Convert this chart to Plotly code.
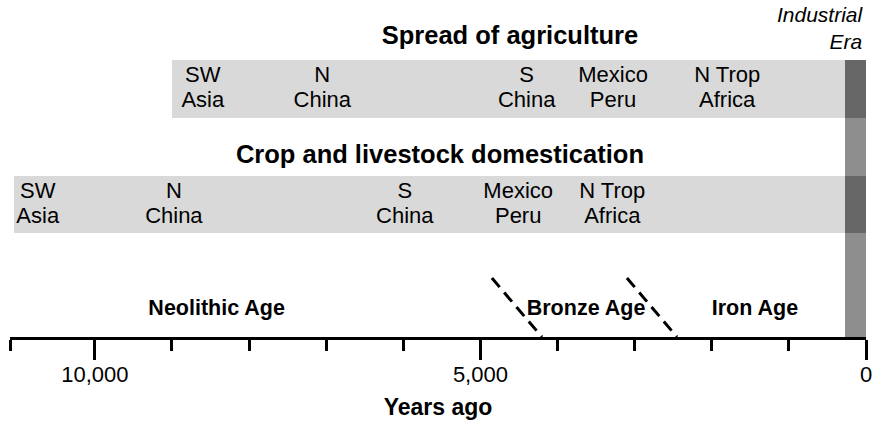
import plotly.graph_objects as go

FONT = "Liberation Sans, Arial, sans-serif"

# ---- data (years ago) ----
axis_start = 11100
industrial_start = 270

bar_names = ["Spread of agriculture", "Crop and livestock domestication"]
bar_starts = [9000, 11050]
bar_centers = [248.5, 132.5]
bar_heights = [58, 57]
title_x = [4617, 5525]
title_y = [299, 180]

spread_top = ["SW", "N", "S", "Mexico", "N Trop"]
spread_bottom = ["Asia", "China", "China", "Peru", "Africa"]
spread_x = [8600, 7050, 4400, 3280, 1800]

crop_top = ["SW", "N", "S", "Mexico", "N Trop"]
crop_bottom = ["Asia", "China", "China", "Peru", "Africa"]
crop_x = [10740, 8975, 5980, 4510, 3290]

era_names = ["Neolithic Age", "Bronze Age", "Iron Age"]
era_x = [8420, 3630, 1440]
era_y = 27

boundary1_x = [4851, 4202]
boundary2_x = [3100, 2451]
boundary_y = [59, 0]

major_ticks = [10000, 5000, 0]
major_labels = ["10,000", "5,000", "0"]
minor_ticks = [11100, 9000, 8000, 7000, 6000, 4000, 3000, 2000, 1000]

LIGHT = "#d9d9d9"
MID = "#8e8e8e"
DARK = "#676767"

fig = go.Figure()

# light bars
fig.add_trace(go.Bar(orientation="h", y=bar_centers, x=bar_starts, base=[0, 0],
                     width=bar_heights, marker=dict(color=LIGHT, line=dict(width=0)),
                     hoverinfo="skip", showlegend=False))
# industrial column
col_top = bar_centers[0] + bar_heights[0] / 2
fig.add_trace(go.Bar(orientation="h", y=[col_top / 2], x=[industrial_start], base=[0],
                     width=[col_top], marker=dict(color=MID, line=dict(width=0)),
                     hoverinfo="skip", showlegend=False))
# overlaps
fig.add_trace(go.Bar(orientation="h", y=bar_centers, x=[industrial_start] * 2, base=[0, 0],
                     width=bar_heights, marker=dict(color=DARK, line=dict(width=0)),
                     hoverinfo="skip", showlegend=False))

label_font = dict(family=FONT, size=22, color="black")
off = 12.5
for xs, tops, bots, c in [(spread_x, spread_top, spread_bottom, bar_centers[0]),
                          (crop_x, crop_top, crop_bottom, bar_centers[1])]:
    fig.add_trace(go.Scatter(x=xs, y=[c + off] * len(xs), mode="text", text=tops,
                             textposition="middle center", textfont=label_font,
                             hoverinfo="skip", showlegend=False))
    fig.add_trace(go.Scatter(x=xs, y=[c - off] * len(xs), mode="text", text=bots,
                             textposition="middle center", textfont=label_font,
                             hoverinfo="skip", showlegend=False))

# titles
fig.add_trace(go.Scatter(x=title_x, y=title_y, mode="text", text=bar_names,
                         textposition="middle center",
                         textfont=dict(family=FONT, size=25.5, color="black", weight="bold"),
                         hoverinfo="skip", showlegend=False))

# eras
fig.add_trace(go.Scatter(x=era_x, y=[era_y] * 3, mode="text", text=era_names,
                         textposition="middle center",
                         textfont=dict(family=FONT, size=21.5, color="black", weight="bold"),
                         hoverinfo="skip", showlegend=False))

# boundaries
for bx in [boundary1_x, boundary2_x]:
    fig.add_trace(go.Scatter(x=bx, y=boundary_y, mode="lines",
                             line=dict(color="black", width=3, dash="12px,7px"),
                             hoverinfo="skip", showlegend=False))

fig.add_annotation(x=0, y=309, xref="x", yref="y", text="Industrial<br>Era",
                   showarrow=False, xanchor="right", yanchor="middle", align="right",
                   font=dict(family=FONT, size=21, color="black", style="italic"))

fig.update_layout(
    width=873, height=421,
    margin=dict(l=10, r=7, t=0, b=84, autoexpand=False),
    paper_bgcolor="white", plot_bgcolor="white",
    barmode="overlay", bargap=0,
    xaxis=dict(range=[axis_start, 0], showgrid=False, zeroline=False, automargin=False,
               showline=True, linecolor="black", linewidth=3,
               tickmode="array", tickvals=major_ticks, ticktext=major_labels,
               ticks="outside", ticklen=20, tickwidth=3, tickcolor="black",
               ticklabelstandoff=-4,
               tickfont=dict(family=FONT, size=22, color="black"),
               minor=dict(tickmode="array", tickvals=minor_ticks, ticks="outside",
                          ticklen=11, tickwidth=3, tickcolor="black"),
               title=dict(text="Years ago", standoff=13,
                          font=dict(family=FONT, size=23, color="black", weight="bold"))),
    yaxis=dict(range=[0, 337], visible=False, fixedrange=True),
)

fig.write_html("out.html", config={"displayModeBar": False},
               post_script="document.body.style.margin='0';document.body.style.padding='0';")
